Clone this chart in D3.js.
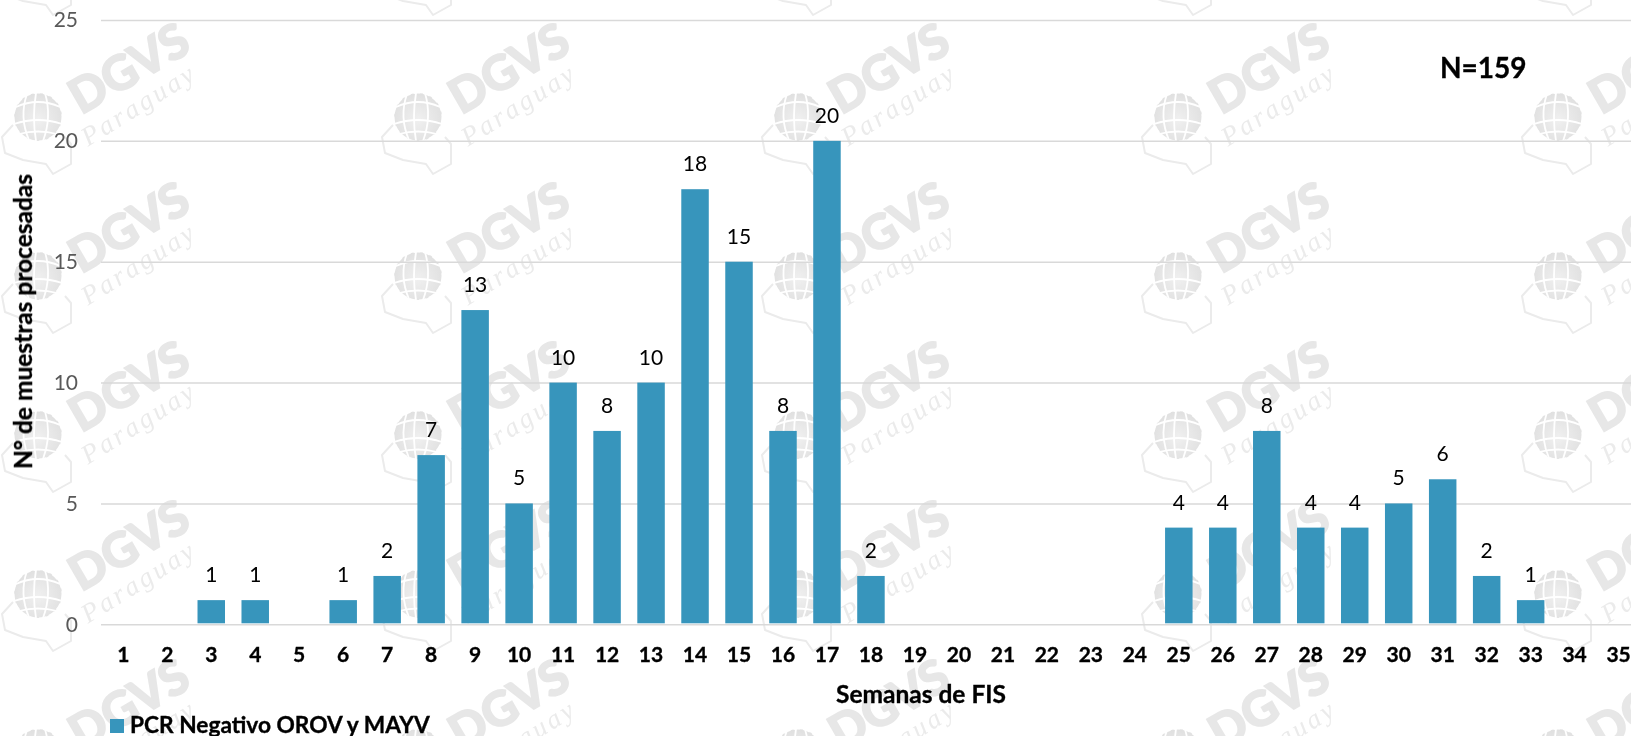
<!DOCTYPE html>
<html><head><meta charset="utf-8">
<script src="https://cdnjs.cloudflare.com/ajax/libs/d3/7.8.5/d3.min.js"></script>
<style>html,body{margin:0;padding:0;background:#fff;overflow:hidden}svg{display:block}text{font-family:Lato,"Open Sans",sans-serif}.b{stroke:#000;stroke-width:.35px}</style>
</head><body><svg id="c" width="1631" height="736"></svg>
<script>
const weeks = d3.range(1, 36).map(String);
const values = [0,0,1,1,0,1,2,7,13,5,10,8,10,18,15,8,20,2,0,0,0,0,0,0,4,4,8,4,4,5,6,2,1,0,0];
const yTicks = [0,5,10,15,20,25];
const seriesName = "PCR Negativo OROV y MAYV";
const xTitle = "Semanas de FIS";
const yTitle = "N° de muestras procesadas";
const note = "N=159";
const markColumns = [38,418,798,1178,1558];
const markRows = [-42,117,276,435,594,753];

const svg = d3.select("#c");
const x = d3.scaleBand().domain(weeks).range([101.3, 1640.6]).paddingInner(0.375).paddingOuter(0.1875);
const y = d3.scaleLinear().domain([0,25]).range([624.3,20]);

// watermark
const defs = svg.append("defs");
const rg = defs.append("radialGradient").attr("id","gl").attr("cx","50%").attr("cy","55%").attr("r","55%");
rg.append("stop").attr("offset","0%").attr("stop-color","#f0f0f0");
rg.append("stop").attr("offset","100%").attr("stop-color","#e0e0e0");
defs.append("filter").attr("id","soft").append("feGaussianBlur").attr("stdDeviation",0.6);
const wm = svg.append("g").attr("filter","url(#soft)");
markRows.forEach(r => markColumns.forEach(c => {
  const g = wm.append("g").attr("transform",`translate(${c},${r})`);
  g.append("circle").attr("r",24).attr("fill","url(#gl)");
  const gl = g.append("g").attr("fill","none").attr("stroke","#fff").attr("stroke-width",1.8);
  gl.append("path").attr("d","M-22,-10Q0,-20 22,-10M-24,7Q0,-1 24,7M-19,17Q0,12 19,17");
  gl.append("path").attr("d","M-11,-23Q-19,0 -9,23M7,-24Q14,0 5,24M-2,-24Q-6,0 -2,24");
  g.append("circle").attr("r",24.5).attr("fill","none").attr("stroke","#fff").attr("stroke-width",2).attr("stroke-dasharray","7 3");
  g.append("path").attr("d","M-25,8L-36,20L-33,36L-15,43L8,47L15,57L33,47L33,27L27,20")
    .attr("fill","none").attr("stroke","#ebebeb").attr("stroke-width",2).attr("stroke-linejoin","round");
  if (r < 0) return; // this row's lettering lies above the page
  g.append("text").attr("transform","translate(93,-45) rotate(-30)").attr("text-anchor","middle").attr("dominant-baseline","middle")
    .attr("font-size",48).attr("font-weight",900).attr("fill","#e7e7e7").attr("stroke","#e7e7e7").attr("stroke-width",1.5).text("DGVS");
  g.append("text").attr("transform","translate(102,-10) rotate(-32)").attr("text-anchor","middle").attr("dominant-baseline","middle")
    .style("font-family","'Liberation Serif',serif").attr("font-style","italic").attr("font-size",27).attr("letter-spacing",3).attr("fill","#ebebeb").text("Paraguay");
}));

// y axis and grid
const yAxis = svg.append("g").attr("transform","translate(101,0)")
  .call(d3.axisLeft(y).tickValues(yTicks).tickSize(-1540).tickPadding(23));
yAxis.select(".domain").remove();
yAxis.selectAll("line").attr("stroke","#d9d9d9").attr("stroke-width",1.5);
yAxis.selectAll("text").attr("font-size",21).attr("fill","#595959").style("font-family","Lato");

// bars
const pts = weeks.map((w,i)=>({w,v:values[i]})).filter(d=>d.v>0);
svg.append("g").selectAll("rect").data(pts).join("rect")
  .attr("x",d=>x(d.w)).attr("width",x.bandwidth())
  .attr("y",d=>y(d.v)).attr("height",d=>y(0)-y(d.v)-1)
  .attr("fill","#3795bc");

// value labels
svg.append("g").selectAll("text").data(pts).join("text")
  .attr("x",d=>x(d.w)+x.bandwidth()/2).attr("y",d=>y(d.v)-18)
  .attr("text-anchor","middle").attr("font-size",21).attr("fill","#000").text(d=>d.v);

// x axis
const xAxis = svg.append("g").attr("transform",`translate(0,${y(0)})`)
  .call(d3.axisBottom(x).tickSize(0).tickPadding(23));
xAxis.select(".domain").remove();
xAxis.selectAll("text").attr("class","b").attr("font-size",21).attr("font-weight",700).attr("fill","#000").style("font-family","Lato");

// titles
svg.append("text").attr("class","b").attr("x",921).attr("y",703).attr("text-anchor","middle").attr("font-size",24.5).attr("font-weight",700).text(xTitle);
svg.append("text").attr("class","b").attr("transform","translate(32,321.5) rotate(-90)").attr("text-anchor","middle").attr("font-size",24.5).attr("font-weight",700).text(yTitle);
svg.append("text").attr("class","b").attr("x",1440).attr("y",78).attr("font-size",28).attr("font-weight",700).text(note);

// legend
svg.append("rect").attr("x",110).attr("y",719).attr("width",14).attr("height",14).attr("fill","#3795bc");
svg.append("text").attr("class","b").attr("x",130).attr("y",733).attr("font-size",22.7).attr("font-weight",700).text(seriesName);
</script></body></html>
